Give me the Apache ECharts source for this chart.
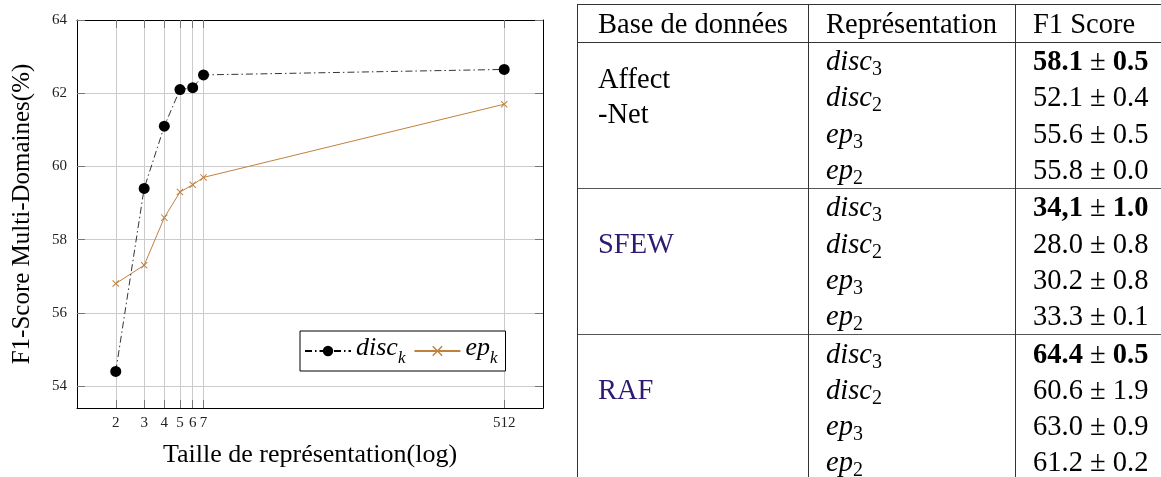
<!DOCTYPE html>
<html>
<head>
<meta charset="utf-8">
<script src="https://cdn.jsdelivr.net/npm/echarts@6/dist/echarts.min.js"></script>
<style>
  html, body { margin: 0; padding: 0; background: #fff; overflow: hidden; }
  #chart { position: absolute; left: 0; top: 0; width: 1161px; height: 477px; }
  #tbl { position: absolute; left: 577px; top: 4px; width: 600px; table-layout: fixed; border-collapse: collapse;
         font-family: 'Liberation Serif', 'DejaVu Serif', serif; font-size: 28.5px; color: #000; }
  #tbl td { padding: 0 0 0 17px; height: 36.3px; line-height: 36px; white-space: nowrap; overflow: visible;
            border-left: 1.3px solid #333; border-right: 1.3px solid #333; vertical-align: middle; }
  #tbl tr.head td { height: 37px; border-top: 1.3px solid #333; border-bottom: 1.3px solid #333; }
  #tbl tr.first td { border-top: 1.3px solid #555; }
  #tbl td.base { vertical-align: top; padding-left: 20px; }
  #tbl .nom { color: #2e1a72; }
  #tbl i { font-style: italic; }
  #tbl sub { font-size: 20px; vertical-align: -5px; line-height: 0; font-style: normal; }
</style>
</head>
<body>
<div id="chart"></div>
<table id="tbl"></table>
<script>
// courbe : taille de representation (log) -> F1 multi-domaines
var tailles = [2, 3, 4, 5, 6, 7, 512];
var discK = [54.4, 59.4, 61.1, 62.1, 62.15, 62.5, 62.65];
var epK = [56.8, 57.3, 58.6, 59.3, 59.5, 59.7, 61.7];
var yTicks = [54, 56, 58, 60, 62, 64];

// tableau
var bases = [['Affect', '-Net'], ['SFEW'], ['RAF']];
var representations = [['disc', '3'], ['disc', '2'], ['ep', '3'], ['ep', '2']];
var scores = [
  [['58.1', '0.5'], ['52.1', '0.4'], ['55.6', '0.5'], ['55.8', '0.0']],
  [['34,1', '1.0'], ['28.0', '0.8'], ['30.2', '0.8'], ['33.3', '0.1']],
  [['64.4', '0.5'], ['60.6', '1.9'], ['63.0', '0.9'], ['61.2', '0.2']]
];

window.onload = function() {
  var myChart = echarts.init(document.getElementById('chart'));
  var serif = 'Liberation Serif';

  var discData = [], epData = [];
  for (var i = 0; i < tailles.length; i++) {
    discData.push([tailles[i], discK[i]]);
    epData.push([tailles[i], epK[i]]);
  }

  var tick = { show: true, inside: true, length: 8, lineStyle: { color: '#777', width: 1 } };
  var croix = 'path://M0,1L1,0L5,4L9,0L10,1L6,5L10,9L9,10L5,6L1,10L0,9L4,5Z';

  var option = {
    animation: false,
    backgroundColor: '#fff',
    grid: { left: 77, right: 618, top: 20, bottom: 69 },
    legend: {
      left: 300, top: 331,
      padding: [4, 8, 4, 4],
      itemGap: 8, itemWidth: 46, itemHeight: 13,
      borderColor: '#000', borderWidth: 1, borderRadius: 0,
      backgroundColor: '#fff',
      data: ['disc', 'ep'],
      formatter: function(name) { return '{m|' + name + '}{s|k}'; },
      textStyle: {
        rich: {
          m: { fontFamily: serif, fontStyle: 'italic', fontSize: 26, color: '#000', verticalAlign: 'bottom', padding: [0, 0, 6, 0] },
          s: { fontFamily: serif, fontStyle: 'italic', fontSize: 17, color: '#000', verticalAlign: 'bottom' }
        }
      }
    },
    xAxis: [{
      type: 'log', logBase: 2, min: 1.15, max: 891,
      name: 'Taille de représentation(log)', nameLocation: 'middle', nameGap: 34,
      nameTextStyle: { fontFamily: serif, fontSize: 26, color: '#000' },
      axisLine: { show: true, lineStyle: { color: '#000', width: 1 } },
      axisTick: Object.assign({ customValues: tailles }, tick),
      axisLabel: { customValues: tailles, margin: 8, fontFamily: serif, fontSize: 15, color: '#222',
                   formatter: function(v) { return String(Math.round(v)); } },
      splitLine: { show: true, lineStyle: { color: '#cbcbcb', width: 1 } }
    }, {
      type: 'log', logBase: 2, min: 1.15, max: 891, position: 'top',
      axisLine: { show: true, lineStyle: { color: '#000', width: 1 } },
      axisTick: Object.assign({ customValues: tailles }, tick),
      axisLabel: { show: false },
      splitLine: { show: false }
    }],
    yAxis: [{
      type: 'value', min: 53.4, max: 64,
      name: 'F1-Score Multi-Domaines(%)', nameLocation: 'middle', nameGap: 42,
      nameTextStyle: { fontFamily: serif, fontSize: 25, color: '#000' },
      axisLine: { show: true, lineStyle: { color: '#000', width: 1 } },
      axisTick: Object.assign({ customValues: yTicks }, tick),
      axisLabel: { customValues: yTicks, margin: 10, fontFamily: serif, fontSize: 15, color: '#222' },
      splitLine: { show: true, lineStyle: { color: '#cbcbcb', width: 1 } }
    }, {
      type: 'value', min: 53.4, max: 64, position: 'right',
      axisLine: { show: true, lineStyle: { color: '#000', width: 1 } },
      axisTick: Object.assign({ customValues: yTicks }, tick),
      axisLabel: { show: false },
      splitLine: { show: false }
    }],
    series: [{
      name: 'disc', type: 'line', data: discData,
      symbol: 'circle', symbolSize: 11,
      itemStyle: { color: '#000' },
      lineStyle: { color: '#000', width: 0.8, type: [7, 3, 1.5, 3] },
      z: 3
    }, {
      name: 'ep', type: 'line', data: epData,
      symbol: croix, symbolSize: 7,
      itemStyle: { color: '#c0813f', borderWidth: 0 },
      lineStyle: { color: '#c0813f', width: 1 },
      z: 2
    }]
  };
  myChart.setOption(option);

  // tableau des resultats
  var html = '<colgroup><col style="width:231px"><col style="width:207px"><col style="width:162px"></colgroup>' +
             '<tr class="head"><td style="padding-left:20px">Base de données</td>' +
             '<td>Représentation</td><td>F1 Score</td></tr>';
  for (var g = 0; g < bases.length; g++) {
    for (var r = 0; r < representations.length; r++) {
      var rep = representations[r], sc = scores[g][r];
      html += '<tr' + (r === 0 ? ' class="first"' : '') + '>';
      if (r === 0) {
        var deux = bases[g].length > 1;
        html += '<td rowspan="4" class="base' + (deux ? '' : ' nom') + '" style="padding-top:' +
                (deux ? 18 : 37) + 'px;line-height:35px">' + bases[g].join('<br>') + '</td>';
      }
      html += '<td><i>' + rep[0] + '</i><sub>' + rep[1] + '</sub></td>';
      if (r === 0) html += '<td><b>' + sc[0] + '</b> ± <b>' + sc[1] + '</b></td>';
      else html += '<td>' + sc[0] + ' ± ' + sc[1] + '</td>';
      html += '</tr>';
    }
  }
  document.getElementById('tbl').innerHTML = html;
};
</script>
</body>
</html>
